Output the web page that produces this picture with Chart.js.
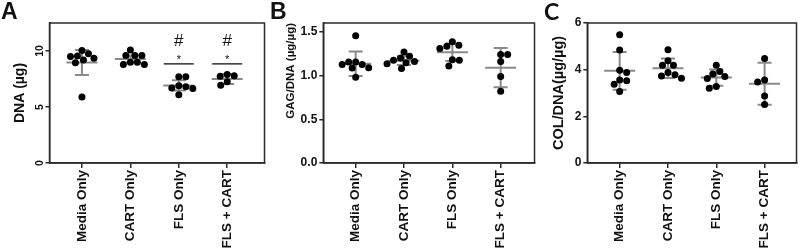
<!DOCTYPE html>
<html><head><meta charset="utf-8">
<script src="https://cdn.jsdelivr.net/npm/chart.js@4.4.1/dist/chart.umd.min.js"></script>
<style>
html,body{margin:0;padding:0;background:#fff;width:800px;height:251px;overflow:hidden;position:relative;}
canvas{position:absolute;top:0;}
.letter{position:absolute;top:0;font-weight:bold;font-size:23px;line-height:23px;color:#111;font-family:'Liberation Sans',Arial,sans-serif;z-index:2;}
</style></head><body>
<div class="letter" style="left:1px">A</div>
<div class="letter" style="left:270px">B</div>
<div class="letter" style="left:544px;font-family:Lato,'Liberation Sans',sans-serif;font-size:23px;">C</div>
<canvas id="cA" width="268" height="251" style="left:0px"></canvas>
<canvas id="cB" width="268" height="251" style="left:270px"></canvas>
<canvas id="cC" width="268" height="251" style="left:532px"></canvas>
<script>
// ---------- DATA ----------
const categories = ['Media Only', 'CART Only', 'FLS Only', 'FLS + CART'];

// Panel A: DNA (µg)
const dnaMedia   = [9.5, 9.75, 10.05, 8.95, 9.2, 9.55, 9.35, 5.9];
const dnaCart    = [10.1, 9.6, 9.6, 9.6, 9.0, 8.8, 8.8, 9.0];
const dnaFls     = [7.7, 7.7, 6.8, 6.9, 6.7, 6.65, 6.1];
const dnaFlsCart = [7.8, 7.9, 7.75, 7.25, 6.95];
const dnaMean    = [8.98, 9.28, 6.93, 7.5];
const dnaSd      = [1.12, 0.3, 0.46, 0.45];
const dnaTicks   = [0, 5, 10];
const dnaSigGroups = [2, 3];
const dnaSigLevel  = 8.85;

// Panel B: GAG/DNA (µg/µg)
const gagMedia   = [1.455, 1.155, 1.125, 1.085, 1.09, 1.125, 1.155, 0.98];
const gagCart    = [1.27, 1.20, 1.22, 1.145, 1.175, 1.16, 1.08, 1.135];
const gagFls     = [1.385, 1.335, 1.31, 1.345, 1.18, 1.175, 1.11];
const gagFlsCart = [1.24, 1.24, 1.16, 0.99, 0.82];
const gagMean    = [1.135, 1.17, 1.265, 1.09];
const gagSd      = [0.14, 0.05, 0.1, 0.225];
const gagTicks   = [0, 0.5, 1.0, 1.5];

// Panel C: COL/DNA (µg/µg)
const colMedia   = [5.5, 4.84, 3.88, 3.98, 3.56, 3.52, 3.37, 3.06];
const colCart    = [4.85, 4.38, 4.19, 4.19, 3.78, 3.63, 3.73, 3.88];
const colFls     = [4.19, 3.92, 3.71, 3.62, 3.81, 3.2, 3.28];
const colFlsCart = [4.48, 3.47, 3.56, 2.87, 2.51];
const colMean    = [3.95, 4.06, 3.66, 3.4];
const colSd      = [0.81, 0.42, 0.35, 0.9];
const colTicks   = [0, 2, 4, 6];

// ---------- PLUGINS ----------
const AXIS = '#2b2b2b';
const FONT = "'Liberation Sans', Arial, sans-serif";

const frame = {
  id: 'frame',
  afterDraw(chart) {
    const {ctx, chartArea: a} = chart;
    ctx.save(); ctx.strokeStyle = AXIS; ctx.lineWidth = 1.5;
    ctx.strokeRect(a.left, a.top, a.right - a.left, a.bottom - a.top);
    ctx.restore();
  }
};

const meanSd = {
  id: 'meanSd',
  beforeDatasetsDraw(chart, args, o) {
    const {ctx, scales: {x, y}} = chart;
    ctx.save(); ctx.strokeStyle = '#8a8a8a'; ctx.lineWidth = 2;
    o.means.forEach((m, i) => {
      const cx = x.getPixelForValue(i);
      const ym = y.getPixelForValue(m);
      const yt = y.getPixelForValue(m + o.sds[i]);
      const yb = y.getPixelForValue(m - o.sds[i]);
      ctx.beginPath();
      ctx.moveTo(cx - 15.5, ym); ctx.lineTo(cx + 15.5, ym);
      ctx.moveTo(cx, yt); ctx.lineTo(cx, yb);
      ctx.moveTo(cx - 7, yt); ctx.lineTo(cx + 7, yt);
      ctx.moveTo(cx - 7, yb); ctx.lineTo(cx + 7, yb);
      ctx.stroke();
    });
    ctx.restore();
  }
};

const swarm = {
  id: 'swarm',
  afterDatasetsUpdate(chart) {
    const xs = chart.scales.x;
    const meta = chart.getDatasetMeta(0);
    const raw = chart.data.datasets[0].data;
    const groups = {};
    meta.data.forEach((el, i) => { (groups[raw[i].x] = groups[raw[i].x] || []).push(el); });
    const d = 7;
    Object.keys(groups).forEach(g => {
      const cx = xs.getPixelForValue(+g);
      const els = groups[g].slice().sort((a, b) => a.y - b.y);
      const placed = [];
      els.forEach((el, k) => {
        let best = 0;
        const sgn = (k % 2) ? 1 : -1;
        for (let s = 0; s < 400; s++) {
          const off = s === 0 ? 0 : ((s % 2) ? sgn : -sgn) * Math.ceil(s / 2) * 0.5;
          if (placed.every(p => Math.hypot(p.x - off, p.y - el.y) >= d)) { best = off; break; }
        }
        placed.push({x: best, y: el.y});
        el.x = cx + best;
      });
    });
  }
};

const sig = {
  id: 'sig',
  afterDatasetsDraw(chart, args, o) {
    if (!o.groups) return;
    const {ctx, scales: {x, y}} = chart;
    ctx.save();
    ctx.strokeStyle = '#111'; ctx.fillStyle = '#111'; ctx.lineWidth = 1.3;
    o.groups.forEach(g => {
      const cx = x.getPixelForValue(g);
      const ly = y.getPixelForValue(o.level);
      ctx.beginPath(); ctx.moveTo(cx - 15, ly); ctx.lineTo(cx + 15, ly); ctx.stroke();
      ctx.textAlign = 'center'; ctx.textBaseline = 'alphabetic';
      ctx.font = '11px ' + FONT; ctx.fillText('*', cx, ly - 0.5);
      ctx.font = '17px ' + FONT; ctx.fillText('#', cx, ly - 18);
    });
    ctx.restore();
  }
};

const rotYTicks = {
  id: 'rotYTicks',
  afterDraw(chart, args, o) {
    if (!o.on) return;
    const {ctx, scales: {y}, chartArea: a} = chart;
    ctx.save();
    ctx.fillStyle = '#111'; ctx.font = 'bold 10.5px ' + FONT;
    ctx.textAlign = 'center'; ctx.textBaseline = 'middle';
    y.ticks.forEach(t => {
      ctx.save();
      ctx.translate(a.left - 9, y.getPixelForValue(t.value));
      ctx.rotate(-Math.PI / 2);
      ctx.fillText(String(t.value), 0, 0);
      ctx.restore();
    });
    ctx.restore();
  }
};

// ---------- BUILDER ----------
function makePanel(id, p) {
  const points = p.groups.flatMap((vals, gi) => vals.map(v => ({x: gi, y: v})));
  return new Chart(document.getElementById(id), {
    type: 'scatter',
    data: { datasets: [{ data: points, pointRadius: 3.5, pointHoverRadius: 3.5,
      backgroundColor: '#000', borderWidth: 0 }] },
    options: {
      responsive: false, animation: false, events: [],
      layout: { padding: { left: 0, right: p.rightPad, top: 23, bottom: 0 } },
      plugins: {
        legend: { display: false }, tooltip: { enabled: false },
        meanSd: { means: p.means, sds: p.sds },
        sig: { groups: p.sigGroups, level: p.sigLevel },
        rotYTicks: { on: !!p.rotY }
      },
      scales: {
        x: {
          type: 'linear', min: -0.67, max: p.xMax,
          afterBuildTicks: s => { s.ticks = categories.map((c, i) => ({value: i})); },
          ticks: { callback: v => categories[v], minRotation: 90, maxRotation: 90, autoSkip: false,
            color: '#111', padding: 2, font: { family: FONT, weight: 'bold', size: 13.5 } },
          grid: { drawOnChartArea: false, drawTicks: true, tickLength: 5, color: AXIS, lineWidth: 1.5 },
          border: { display: true, color: AXIS, width: 1.5 },
          afterFit: s => { s.height = 88; }
        },
        y: {
          min: 0, max: p.yMax,
          afterBuildTicks: s => { s.ticks = p.ticks.map(v => ({value: v})); },
          ticks: { display: !p.rotY, callback: p.fmt, color: '#111', padding: 2,
            font: { family: FONT, weight: 'bold', size: p.tickSize } },
          grid: { drawOnChartArea: false, drawTicks: true, tickLength: 4, color: AXIS, lineWidth: 1.5 },
          border: { display: true, color: AXIS, width: 1.5 },
          title: { display: true, text: p.title, color: '#111', align: p.titleAlign,
            padding: { top: p.titlePad, bottom: 0 },
            font: { family: FONT, weight: 'bold', size: p.titleSize } },
          afterFit: s => { s.width = p.yWidth; }
        }
      }
    },
    plugins: [swarm, meanSd, sig, frame, rotYTicks]
  });
}

makePanel('cA', {
  groups: [dnaMedia, dnaCart, dnaFls, dnaFlsCart], means: dnaMean, sds: dnaSd,
  ticks: dnaTicks, yMax: 12.5, fmt: v => String(v), tickSize: 10.5, rotY: true,
  title: 'DNA (µg)', titleSize: 14, titlePad: 12, titleAlign: 'center',
  yWidth: 49.5, rightPad: 3, xMax: 3.77, sigGroups: dnaSigGroups, sigLevel: dnaSigLevel
});
makePanel('cB', {
  groups: [gagMedia, gagCart, gagFls, gagFlsCart], means: gagMean, sds: gagSd,
  ticks: gagTicks, yMax: 1.6, fmt: v => v.toFixed(1), tickSize: 12,
  title: 'GAG/DNA (µg/µg)', titleSize: 11.5, titlePad: 14, titleAlign: 'end',
  yWidth: 53.3, rightPad: 2, xMax: 3.70
});
makePanel('cC', {
  groups: [colMedia, colCart, colFls, colFlsCart], means: colMean, sds: colSd,
  ticks: colTicks, yMax: 6, fmt: v => String(v), tickSize: 12,
  title: 'COL/DNA(µg/µg)', titleSize: 14.5, titlePad: 18, titleAlign: 'center',
  yWidth: 55.3, rightPad: 1, xMax: 3.66
});
</script>
</body></html>
